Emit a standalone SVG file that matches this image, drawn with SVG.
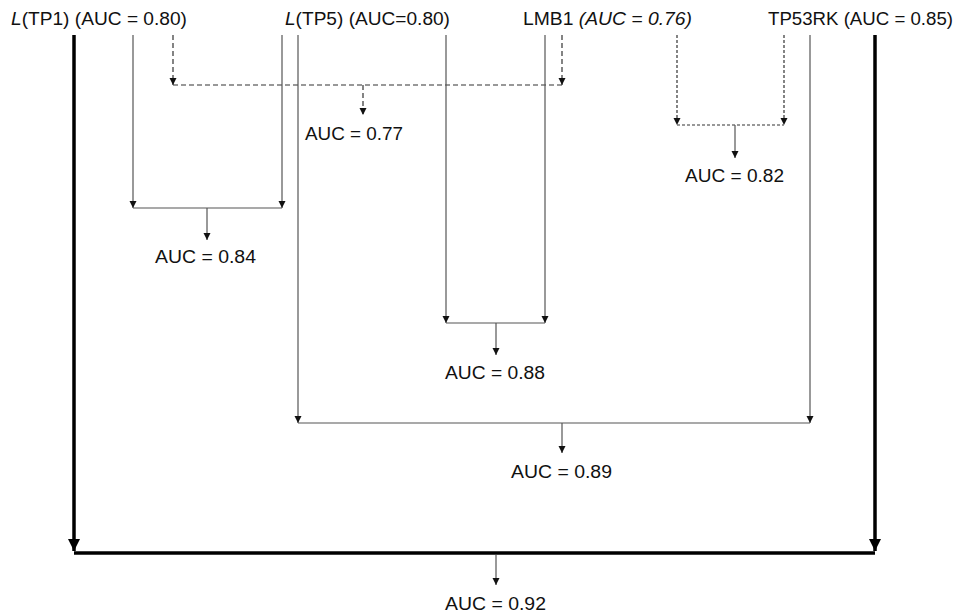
<svg xmlns="http://www.w3.org/2000/svg" width="960" height="615" viewBox="0 0 960 615">
<defs>
<style>
text{font-family:"Liberation Sans",Arial,sans-serif;font-size:18px;fill:#111}
.thin{stroke:#555;stroke-width:1.2;fill:none}
.dash{stroke:#333;stroke-width:1.2;fill:none;stroke-dasharray:5,3}
.dot{stroke:#333;stroke-width:1.2;fill:none;stroke-dasharray:3,2}
.thick{stroke:#000;stroke-width:3.5;fill:none}
</style>
<marker id="a" markerUnits="userSpaceOnUse" markerWidth="8" markerHeight="8" refX="7" refY="3.5" orient="auto"><path d="M0,0 L7,3.5 L0,7 z" fill="#111"/></marker>
<marker id="b" markerUnits="userSpaceOnUse" markerWidth="14" markerHeight="14" refX="12" refY="6" orient="auto"><path d="M0,0 L12,6 L0,12 z" fill="#000"/></marker>
</defs>
<rect width="960" height="615" fill="#fff"/>
<g id="connectors">
<path class="thick" d="M74,35 V551" marker-end="url(#b)"/>
<path class="thick" d="M875,35 V551" marker-end="url(#b)"/>
<path class="thick" d="M74,553 H875"/>
<path class="thin" d="M496,555 V585" marker-end="url(#a)"/>
<path class="dash" d="M173,35 V85" marker-end="url(#a)"/>
<path class="dash" d="M562,35 V85" marker-end="url(#a)"/>
<path class="dash" d="M173,85 H562"/>
<path class="dash" d="M363,85 V115" marker-end="url(#a)"/>
<path class="dot" d="M677,35 V125" marker-end="url(#a)"/>
<path class="dot" d="M784,35 V125" marker-end="url(#a)"/>
<path class="dot" d="M677,125 H784"/>
<path class="thin" d="M735,125 V158" marker-end="url(#a)"/>
<path class="thin" d="M133,35 V208" marker-end="url(#a)"/>
<path class="thin" d="M282,35 V208" marker-end="url(#a)"/>
<path class="thin" d="M133,208 H282"/>
<path class="thin" d="M207,208 V240" marker-end="url(#a)"/>
<path class="thin" d="M446,35 V323" marker-end="url(#a)"/>
<path class="thin" d="M545,35 V323" marker-end="url(#a)"/>
<path class="thin" d="M446,323 H545"/>
<path class="thin" d="M496,323 V355" marker-end="url(#a)"/>
<path class="thin" d="M298,35 V423" marker-end="url(#a)"/>
<path class="thin" d="M810,35 V423" marker-end="url(#a)"/>
<path class="thin" d="M298,423 H810"/>
<path class="thin" d="M562,423 V453" marker-end="url(#a)"/>
</g>
<g id="tp1"><text x="11" y="25" textLength="176" lengthAdjust="spacingAndGlyphs"><tspan font-style="italic">L</tspan>(TP1) (AUC = 0.80)</text></g>
<g id="tp5"><text x="285" y="25" textLength="165" lengthAdjust="spacingAndGlyphs"><tspan font-style="italic">L</tspan>(TP5) (AUC=0.80)</text></g>
<g id="lmb1"><text x="523" y="25" textLength="169" lengthAdjust="spacingAndGlyphs">LMB1 <tspan font-style="italic">(AUC = 0.76)</tspan></text></g>
<g id="tp53rk"><text x="768" y="25" textLength="185" lengthAdjust="spacingAndGlyphs">TP53RK (AUC = 0.85)</text></g>
<g id="auc077"><text x="305" y="140" textLength="98" lengthAdjust="spacingAndGlyphs">AUC = 0.77</text></g>
<g id="auc082"><text x="685" y="182" textLength="99" lengthAdjust="spacingAndGlyphs">AUC = 0.82</text></g>
<g id="auc084"><text x="155" y="263" textLength="101" lengthAdjust="spacingAndGlyphs">AUC = 0.84</text></g>
<g id="auc088"><text x="445" y="379" textLength="100" lengthAdjust="spacingAndGlyphs">AUC = 0.88</text></g>
<g id="auc089"><text x="511" y="478" textLength="101" lengthAdjust="spacingAndGlyphs">AUC = 0.89</text></g>
<g id="auc092"><text x="445" y="610" textLength="101" lengthAdjust="spacingAndGlyphs">AUC = 0.92</text></g>
</svg>
